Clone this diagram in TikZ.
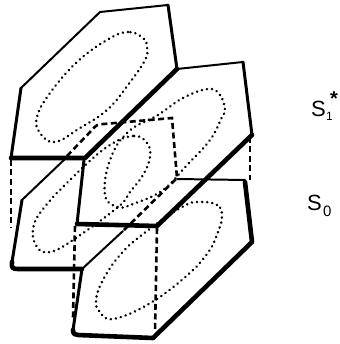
\documentclass[tikz,border=0pt]{standalone}
\usepackage{fontspec}
\setmainfont{Liberation Sans}
\tikzset{
  thinedge/.style={line width=2pt,line join=round,line cap=round},
  midedge/.style={line width=3pt,line join=round,line cap=round},
  boldedge/.style={line width=4.6pt,line join=round,line cap=round},
  hidden/.style={line width=2.6pt,dash pattern=on 6pt off 3.5pt},
  orbit/.style={line width=2.7pt,line cap=round,dash pattern=on 0.1pt off 5pt},
  statelabel/.style={inner sep=0pt,font=\fontsize{22}{22}\selectfont}
}
\begin{document}
\begin{tikzpicture}[x=1pt,y=-1pt]
\useasboundingbox (0,0) rectangle (339,344);
% upper left plate
\draw[thinedge] (21,88) -- (100,12) -- (168,5);
\draw[midedge] (11,158) -- (21,88);
\draw[midedge] (168,5) -- (177,69);
\draw[boldedge] (11,158) -- (85,158) -- (177,69);
% upper right plate
\draw[thinedge] (177,69) -- (243,62);
\draw[midedge] (243,62) -- (252,135);
\draw[boldedge] (252,135) -- (157,226) -- (77,224);
\draw[midedge] (77,224) -- (84,160);
% lower left plate
\draw[thinedge] (82,269) -- (123,231);
\draw[thinedge] (22,200) -- (66,158);
\draw[midedge] (22,200) -- (12,262);
\draw[boldedge] (12,262) .. controls (11,268) and (13,269) .. (18,269) -- (82,269);
% lower right plate
\draw[midedge] (82,269) -- (73,330);
\draw[boldedge] (73,330) .. controls (73,334) and (75,335) .. (78,335) -- (153,338) -- (252,242) -- (245,182);
\draw[thinedge] (245,180) -- (177,179);
% hidden edges
\draw[hidden] (67,156) -- (92,130) .. controls (96,125) and (98,124) .. (104,124) -- (172,118) -- (177,178) -- (123,231);
\draw[hidden] (11,160) -- (11,228);
\draw[hidden] (75,226) -- (73,318);
\draw[hidden] (157,228) -- (155,332);
\draw[hidden] (250,137) -- (250,180);
% orbits
\draw[orbit] plot[smooth cycle,tension=0.7] coordinates {(143,38) (128,32) (107,40) (77,62) (50,93) (37,117) (40,133) (55,142) (80,128) (107,110) (128,85) (145,60) (147,47)};
\draw[orbit] plot[smooth cycle,tension=0.7] coordinates {(225,110) (220,95) (208,89) (183,98) (158,115) (128,132) (110,160) (105,195) (118,207) (133,204) (163,190) (187,165) (210,140) (222,117)};
\draw[orbit] plot[smooth cycle,tension=0.7] coordinates {(147,143) (133,136) (107,147) (73,177) (43,209) (33,229) (37,247) (50,252) (73,240) (118,207) (130,192) (143,175) (150,157)};
\draw[orbit] plot[smooth cycle,tension=0.7] coordinates {(222,215) (217,205) (200,202) (182,207) (143,234) (120,255) (103,280) (96,300) (100,312) (113,319) (147,305) (183,279) (207,254) (218,232)};
% labels
\node[statelabel,anchor=base west] (sone) at (311,117) {S};
\node[inner sep=0pt,font=\fontsize{12}{12}\selectfont,anchor=base west] (soneidx) at (326,121) {1};
\node[inner sep=0pt,font=\bfseries\fontsize{20}{20}\selectfont,anchor=center] (star) at (334,99) {*};
\node[statelabel,anchor=base west] (szero) at (307,210) {S};
\node[inner sep=0pt,font=\fontsize{15}{15}\selectfont,anchor=base west] (szeroidx) at (323,216) {0};
\end{tikzpicture}
\end{document}
